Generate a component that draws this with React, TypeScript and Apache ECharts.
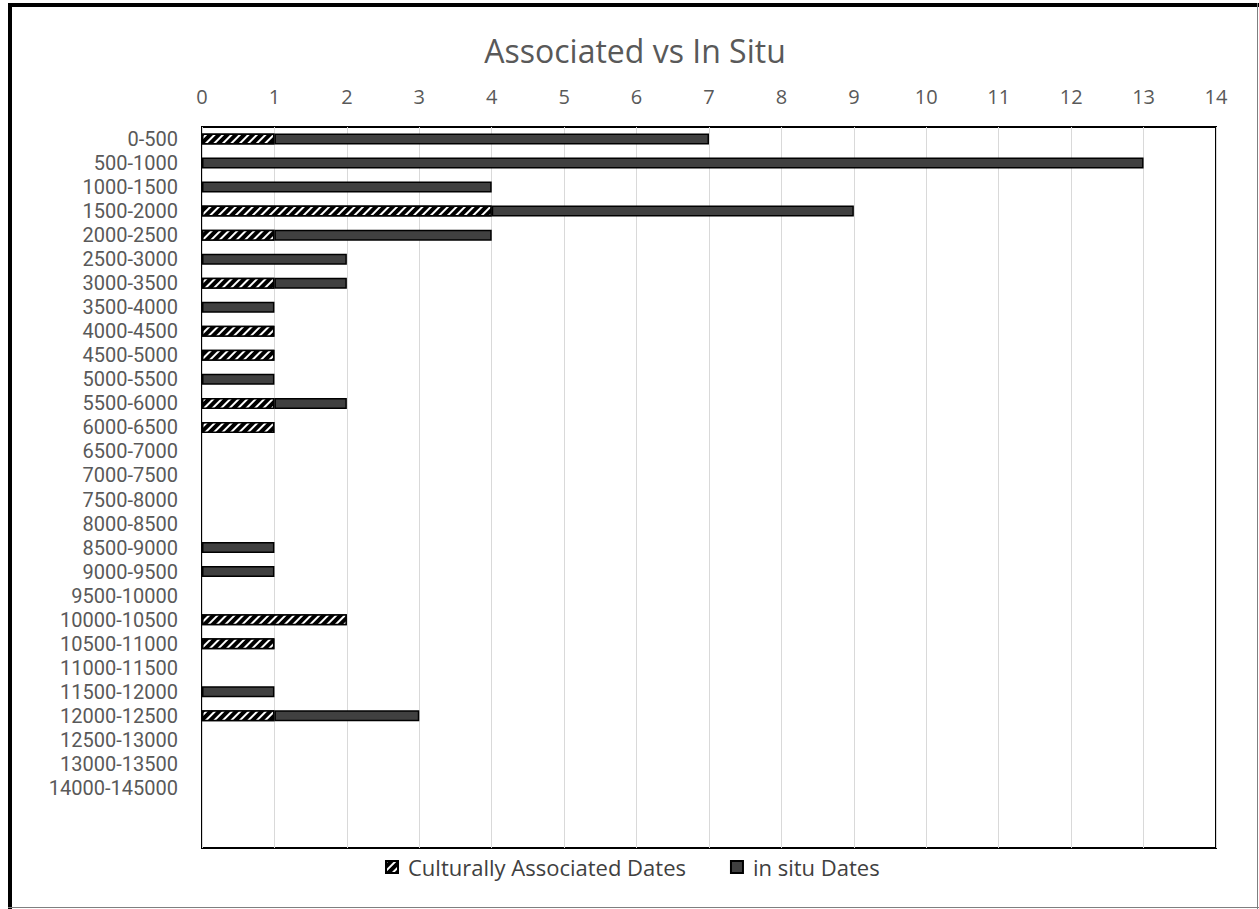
import React, { useEffect, useRef } from "react";
import * as echarts from "echarts";

const categories = [
  "0-500", "500-1000", "1000-1500", "1500-2000", "2000-2500", "2500-3000",
  "3000-3500", "3500-4000", "4000-4500", "4500-5000", "5000-5500", "5500-6000",
  "6000-6500", "6500-7000", "7000-7500", "7500-8000", "8000-8500", "8500-9000",
  "9000-9500", "9500-10000", "10000-10500", "10500-11000", "11000-11500",
  "11500-12000", "12000-12500", "12500-13000", "13000-13500", "14000-145000",
  " ", "  ",
];

const culturallyAssociated = [
  1, 0, 0, 4, 1, 0, 1, 0, 1, 1, 0, 1, 1, 0, 0, 0, 0, 0, 0, 0, 2, 1, 0, 0, 1, 0, 0, 0, 0, 0,
];

const inSitu = [
  6, 13, 4, 5, 3, 2, 1, 1, 0, 0, 1, 1, 0, 0, 0, 0, 0, 1, 1, 0, 0, 0, 0, 1, 2, 0, 0, 0, 0, 0,
];

const xTicks = { min: 0, max: 14, interval: 1 };

const FONT = "'Open Sans', sans-serif";
const LABEL_FONT = "Roboto, sans-serif";

const nz = (arr: number[]) => arr.map((v) => (v === 0 ? null : v));

export default function App() {
  const ref = useRef<HTMLDivElement>(null);
  useEffect(() => {
    if (!ref.current) return;
    const chart = echarts.init(ref.current, null, { renderer: "svg" });
    const hatch = {
      symbol: "rect",
      symbolSize: 1,
      color: "#ffffff",
      dashArrayX: [1, 0],
      dashArrayY: [2, 4],
      rotation: -Math.PI / 4,
    };
    chart.setOption({
      animation: false,
      backgroundColor: "#ffffff",
      textStyle: { fontFamily: FONT },
      graphic: [
        { type: "rect", shape: { x: 8, y: 3, width: 4, height: 906 }, style: { fill: "#000" }, silent: true },
        { type: "rect", shape: { x: 8, y: 3, width: 1251, height: 4 }, style: { fill: "#000" }, silent: true },
        { type: "line", shape: { x1: 1257.5, y1: 3, x2: 1257.5, y2: 909 }, style: { stroke: "#7f7f7f", lineWidth: 1 }, silent: true },
        { type: "line", shape: { x1: 8, y1: 907.5, x2: 1259, y2: 907.5 }, style: { stroke: "#7f7f7f", lineWidth: 1 }, silent: true },
        {
          type: "text",
          x: 635,
          y: 50,
          style: {
            text: "Associated vs In Situ",
            fill: "#595959",
            fontSize: 32,
            fontFamily: FONT,
            align: "center",
            verticalAlign: "middle",
          },
          silent: true,
        },
      ],
      legend: {
        bottom: 26,
        left: 380,
        icon: "rect",
        itemWidth: 12,
        itemHeight: 12,
        itemGap: 44,
        textStyle: { fontSize: 22, color: "#404040", fontFamily: FONT, padding: [0, 0, 0, 5] },
        data: ["Culturally Associated Dates", "in situ Dates"],
      },
      grid: {
        left: 202,
        right: 43,
        top: 127,
        bottom: 61,
        show: true,
        borderColor: "#000",
        borderWidth: 2,
        backgroundColor: "transparent",
        containLabel: false,
        outerBoundsMode: "none",
      },
      xAxis: {
        type: "value",
        position: "top",
        min: xTicks.min,
        max: xTicks.max,
        interval: xTicks.interval,
        axisLine: { show: false },
        axisTick: { show: false },
        splitLine: { show: true, lineStyle: { color: "#d9d9d9", width: 1 } },
        axisLabel: { color: "#595959", fontSize: 20, margin: 21, fontFamily: FONT },
      },
      yAxis: {
        type: "category",
        inverse: true,
        data: categories,
        axisLine: { show: false },
        axisTick: { show: false },
        splitLine: { show: false },
        axisLabel: {
          color: "#595959",
          fontSize: 20,
          lineHeight: 20,
          margin: 24,
          interval: 0,
          fontFamily: LABEL_FONT,
        },
      },
      series: [
        {
          name: "Culturally Associated Dates",
          type: "bar",
          stack: "total",
          data: nz(culturallyAssociated),
          barWidth: 11,
          itemStyle: { color: "#000000", borderColor: "#000", borderWidth: 1.5, decal: hatch },
          emphasis: { disabled: true },
        },
        {
          name: "in situ Dates",
          type: "bar",
          stack: "total",
          data: nz(inSitu),
          barWidth: 11,
          itemStyle: { color: "#404040", borderColor: "#000", borderWidth: 1.5 },
          emphasis: { disabled: true },
        },
      ],
    });
    return () => chart.dispose();
  }, []);
  return (
    <div
      ref={ref}
      style={{ position: "absolute", left: 0, top: 0, width: 1259, height: 909 }}
    />
  );
}
